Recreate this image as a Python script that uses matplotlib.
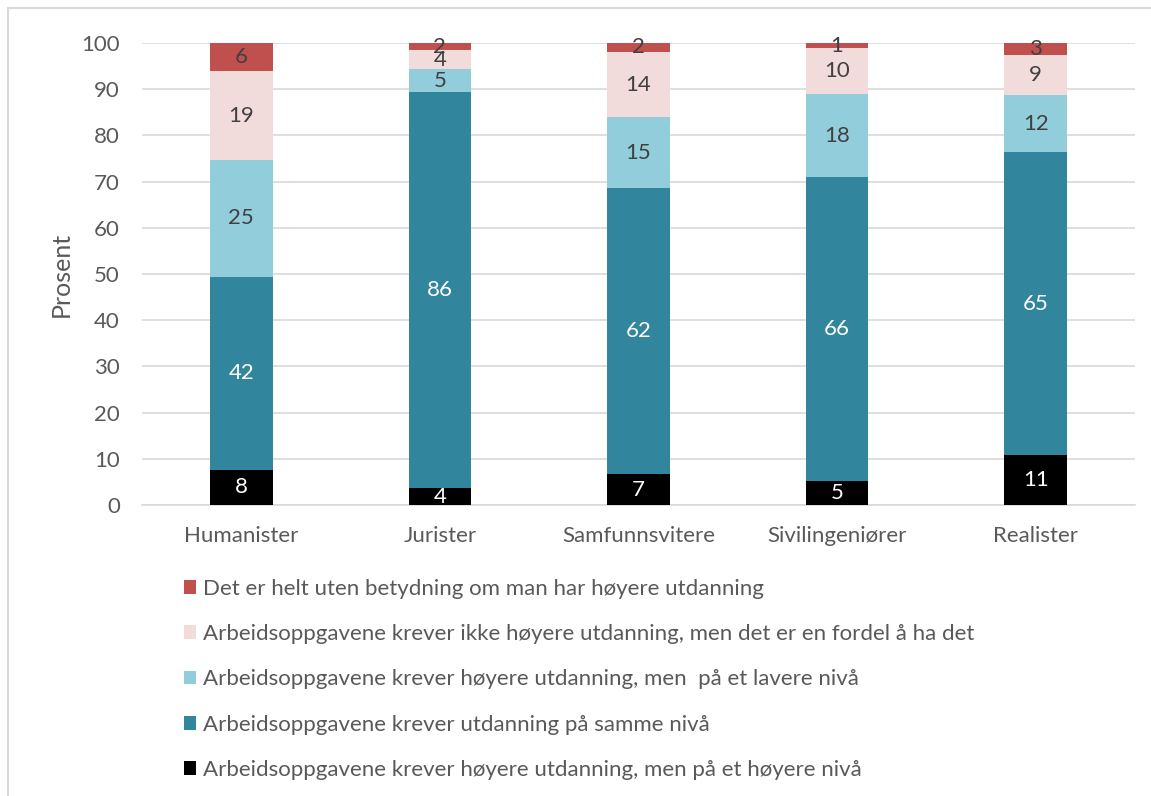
import matplotlib.pyplot as plt
from matplotlib.patches import Patch, Rectangle

plt.rcParams['font.family'] = ['Lato', 'DejaVu Sans']

categories = ['Humanister', 'Jurister', 'Samfunnsvitere', 'Sivilingeniører', 'Realister']

# stacked bottom -> top
hoyere_niva = [7.6, 3.6, 6.7, 5.2, 10.9]
samme_niva = [41.8, 85.8, 61.9, 65.8, 65.4]
lavere_niva = [25.3, 4.9, 15.3, 17.9, 12.4]
ikke_krav_fordel = [19.2, 4.1, 14.2, 10.0, 8.7]
uten_betydning = [6.1, 1.6, 1.9, 1.1, 2.6]

series = [
    (hoyere_niva, 'Arbeidsoppgavene krever høyere utdanning, men på et høyere nivå', '#000000', 'white'),
    (samme_niva, 'Arbeidsoppgavene krever utdanning på samme nivå', '#31859C', 'white'),
    (lavere_niva, 'Arbeidsoppgavene krever høyere utdanning, men  på et lavere nivå', '#92CDDC', '#404040'),
    (ikke_krav_fordel, 'Arbeidsoppgavene krever ikke høyere utdanning, men det er en fordel å ha det', '#F2DCDB', '#404040'),
    (uten_betydning, 'Det er helt uten betydning om man har høyere utdanning', '#C0504D', '#404040'),
]

fig = plt.figure(figsize=(11.51, 7.96), dpi=100)
ax = fig.add_axes([0.1234, 0.3656, 0.8626, 0.5804])

x = range(len(categories))
bottom = [0.0] * len(categories)
for vals, name, color, tcol in series:
    ax.bar(x, vals, width=0.315, bottom=bottom, color=color, zorder=3)
    for i, v in enumerate(vals):
        ax.text(i, bottom[i] + v / 2, f"{v:.0f}", ha='center', va='center',
                fontsize=16, color=tcol, zorder=4)
    bottom = [b + v for b, v in zip(bottom, vals)]

ax.set_xlim(-0.5, 4.5)
ax.set_ylim(0, 100)
ax.set_yticks(range(0, 101, 10))
ax.yaxis.grid(True, color='#D9D9D9', linewidth=1.2, zorder=0)
for s in ['top', 'right', 'left']:
    ax.spines[s].set_visible(False)
ax.spines['bottom'].set_color('#D9D9D9')
ax.spines['bottom'].set_linewidth(1.2)
ax.tick_params(axis='both', length=0, labelsize=16, colors='#595959')
ax.tick_params(axis='y', pad=16)
ax.tick_params(axis='x', pad=15)
ax.set_xticks(list(x))
ax.set_xticklabels(categories)
ax.set_ylabel('Prosent', fontsize=18, color='#595959', labelpad=6)

handles = [Patch(facecolor=c, label=n) for _, n, c, _ in series[::-1]]
fig.legend(handles=handles, loc='upper left', bbox_to_anchor=(0.160, 0.273),
           frameon=False, fontsize=16, labelcolor='#595959',
           handlelength=0.55, handleheight=0.55, handletextpad=0.3,
           labelspacing=1.14, borderaxespad=0, borderpad=0)

fig.patches.append(Rectangle((0.007, -0.01), 0.995, 1.0, transform=fig.transFigure,
                             fill=False, edgecolor='#D9D9D9', linewidth=1.5))

fig.savefig('out.png', dpi=100)
